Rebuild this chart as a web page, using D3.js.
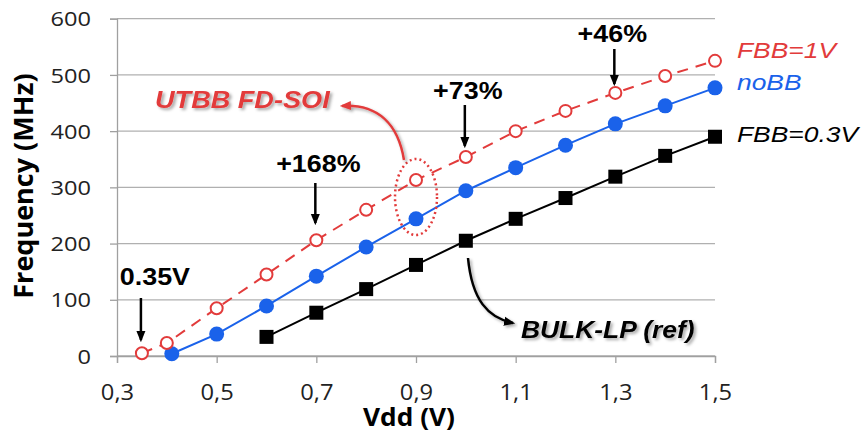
<!DOCTYPE html>
<html><head><meta charset="utf-8">
<script src="https://cdn.jsdelivr.net/npm/d3@7"></script>
<style>body{margin:0;background:#fff}svg{display:block}</style>
</head><body>
<svg id="c" width="865" height="434"></svg>
<script>
const fbb1X = [0.35,0.4,0.5,0.6,0.7,0.8,0.9,1.0,1.1,1.2,1.3,1.4,1.5];
const fbb1Y = [5,23,85,145,206,260,313,354,400,436,468,498,525];
const noBBX = [0.41,0.5,0.6,0.7,0.8,0.9,1.0,1.1,1.2,1.3,1.4,1.5];
const noBBY = [4,39,89,142,194,244,294,335,375,413,445,477];
const fbb03X = [0.6,0.7,0.8,0.9,1.0,1.1,1.2,1.3,1.4,1.5];
const fbb03Y = [34,77,119,162,205,244,281,319,356,390];
const xTicks = [0.3,0.5,0.7,0.9,1.1,1.3,1.5];
const yTicks = [0,100,200,300,400,500,600];
const seriesNames = ["FBB=1V","noBB","FBB=0.3V"];
const gainLabels = ["0.35V","+168%","+73%","+46%"];
const gainX = [0.35,0.7,1.0,1.3];

const svg = d3.select("#c");
const x = d3.scaleLinear().domain([0.3,1.5]).range([117,715]);
const y = d3.scaleLinear().domain([0,600]).range([356,18.7]);
const RED="#e23b3b", BLUE="#1a62ea", BLACK="#000";
const ARIAL="'Liberation Sans', Arial, sans-serif";
const OPEN="'Open Sans', sans-serif";

const defs = svg.append("defs");
const f = defs.append("filter").attr("id","sh").attr("x","-10%").attr("y","-30%").attr("width","120%").attr("height","160%");
f.append("feDropShadow").attr("dx",2).attr("dy",2).attr("stdDeviation",1.5).attr("flood-color","#000").attr("flood-opacity",0.35);
function marker(id,color){
  defs.append("marker").attr("id",id).attr("viewBox","0 0 10 10").attr("refX",8).attr("refY",5)
   .attr("markerWidth",4.5).attr("markerHeight",4.5).attr("orient","auto")
   .append("path").attr("d","M0,1 L10,5 L0,9 z").attr("fill",color);
}
marker("ab","#000"); marker("ar",RED);

function txt(px,py,str,o){
  const t = svg.append("text").attr("transform",`translate(${px},${py}) scale(${o.sx||1},1)`)
    .attr("text-anchor",o.anchor||"start").attr("font-family",o.family||ARIAL)
    .attr("font-size",o.size).attr("fill",o.fill||"#000").text(str);
  if(o.bold) t.attr("font-weight","bold");
  if(o.italic) t.attr("font-style","italic");
  if(o.filter) t.attr("filter",o.filter);
  return t;
}

// gridlines
svg.append("g").selectAll("line").data(yTicks).join("line")
  .attr("x1",x(0.3)).attr("x2",x(1.5)).attr("y1",d=>y(d)).attr("y2",d=>y(d))
  .attr("stroke","#b0b0b0").attr("stroke-width",1.3);

// y axis
const ya = svg.append("g").attr("transform",`translate(${x(0.3)},0)`)
  .call(d3.axisLeft(y).tickValues(yTicks).tickSize(7).tickFormat(d3.format("d")));
ya.select(".domain").attr("stroke","#a0a0a0").attr("stroke-width",1.3);
ya.selectAll(".tick line").attr("stroke","#a0a0a0").attr("stroke-width",1.3);
ya.selectAll("text").attr("x",0).attr("dy","0.36em").attr("transform","translate(-26,0) scale(1.18,1)")
  .attr("font-family",OPEN).attr("font-size",20).attr("fill","#222");

// x axis
const xa = svg.append("g").attr("transform",`translate(0,${y(0)})`)
  .call(d3.axisBottom(x).tickValues(xTicks).tickSize(7).tickFormat(d=>d3.format(".1f")(d).replace(".",",")));
xa.select(".domain").attr("stroke","#a0a0a0").attr("stroke-width",1.3);
xa.selectAll(".tick line").attr("stroke","#a0a0a0").attr("stroke-width",1.3);
xa.selectAll("text").attr("y",0).attr("dy",0).attr("transform","translate(0,44) scale(1.13,1)")
  .attr("font-family",OPEN).attr("font-size",21).attr("fill","#222");

// titles
svg.append("text").attr("transform",`translate(33,186) rotate(-90)`).attr("text-anchor","middle")
  .attr("font-family",OPEN).attr("font-weight","bold").attr("font-size",27).text("Frequency (MHz)");
txt(409,426,"Vdd (V)",{anchor:"middle",family:OPEN,bold:true,size:25,sx:1.05});

const line = d3.line().x(d=>x(d[0])).y(d=>y(d[1]));
const zip = (a,b)=>a.map((v,i)=>[v,b[i]]);

// black series
const d03 = zip(fbb03X,fbb03Y);
svg.append("path").datum(d03).attr("d",line).attr("fill","none").attr("stroke",BLACK).attr("stroke-width",2);
svg.append("g").selectAll("rect").data(d03).join("rect")
  .attr("x",d=>x(d[0])-7).attr("y",d=>y(d[1])-7).attr("width",14).attr("height",14).attr("fill",BLACK);

// blue series
const dno = zip(noBBX,noBBY);
svg.append("path").datum(dno).attr("d",line).attr("fill","none").attr("stroke",BLUE).attr("stroke-width",2);
svg.append("g").selectAll("circle").data(dno).join("circle")
  .attr("cx",d=>x(d[0])).attr("cy",d=>y(d[1])).attr("r",7.5).attr("fill",BLUE);

// red series
const d1 = zip(fbb1X,fbb1Y);
svg.append("path").datum(d1).attr("d",line).attr("fill","none").attr("stroke",RED).attr("stroke-width",2).attr("stroke-dasharray","11,8");
svg.append("g").selectAll("circle").data(d1).join("circle")
  .attr("cx",d=>x(d[0])).attr("cy",d=>y(d[1])).attr("r",6).attr("fill","#fff").attr("stroke",RED).attr("stroke-width",2);

// series labels
const lastY = [fbb1Y[fbb1Y.length-1], noBBY[noBBY.length-1], fbb03Y[fbb03Y.length-1]];
const labColors = [RED,BLUE,BLACK], labOff = [-3,2,5];
seriesNames.forEach((n,i)=>txt(737,y(lastY[i])+labOff[i],n,{italic:true,size:22,sx:1.2,fill:labColors[i]}));

// percentage annotations
const annDx=[13,2,2,-3], annTy=[285,172,99,42], annA=[[298,340],[183,223],[105,146],[49,84]];
gainLabels.forEach((s,i)=>{
  txt(x(gainX[i])+annDx[i],annTy[i],s,{anchor:"middle",bold:true,size:24,sx:1.12});
  svg.append("line").attr("x1",x(gainX[i])-1).attr("x2",x(gainX[i])-1).attr("y1",annA[i][0]).attr("y2",annA[i][1])
    .attr("stroke","#000").attr("stroke-width",2.5).attr("marker-end","url(#ab)");
});

// ellipse
svg.append("ellipse").attr("cx",416).attr("cy",197).attr("rx",21).attr("ry",38)
  .attr("fill","none").attr("stroke",RED).attr("stroke-width",2.5).attr("stroke-dasharray","2,3");

// UTBB label + arrow
svg.append("path").attr("d","M404,160 C398,124 378,104 342,106").attr("fill","none").attr("stroke",RED).attr("stroke-width",2.5).attr("marker-end","url(#ar)").attr("filter","url(#sh)");
txt(155,108,"UTBB FD-SOI",{bold:true,italic:true,size:24,sx:1.13,fill:RED,filter:"url(#sh)"});

// BULK label + arrow
svg.append("path").attr("d","M468,258 C472,300 488,318 513,323").attr("fill","none").attr("stroke","#000").attr("stroke-width",2.5).attr("marker-end","url(#ab)").attr("filter","url(#sh)");
txt(521,338,"BULK-LP (ref)",{bold:true,italic:true,size:24,sx:1.1,filter:"url(#sh)"});
</script>
</body></html>
